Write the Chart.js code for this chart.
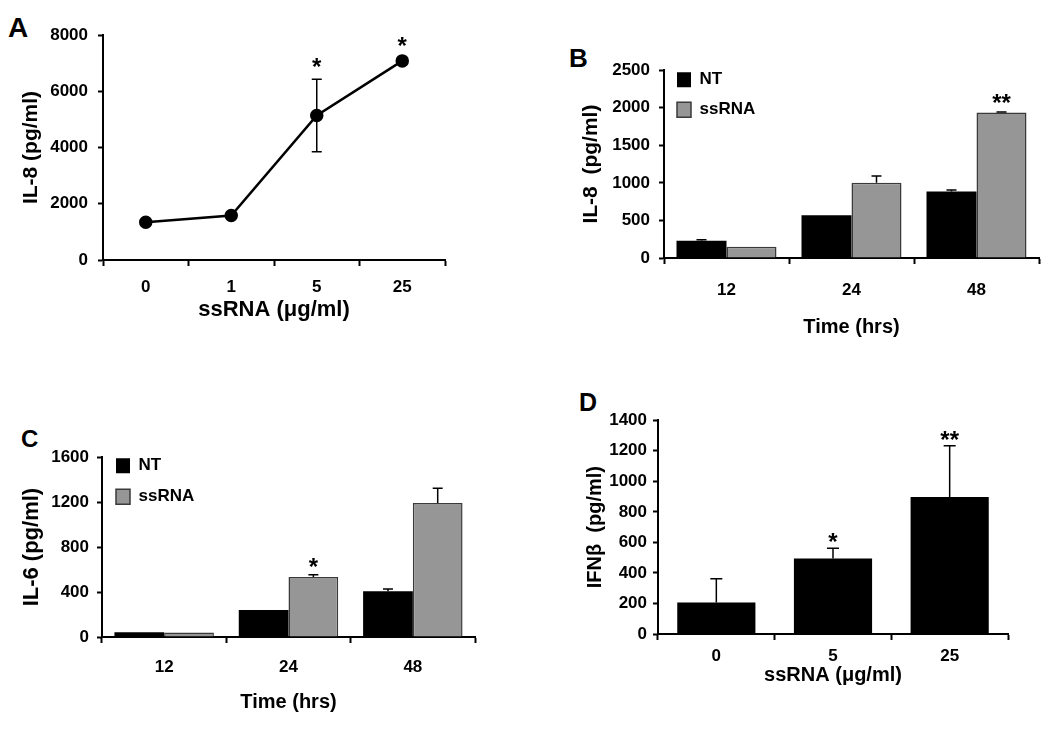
<!DOCTYPE html>
<html lang="en">
<head>
<meta charset="UTF-8">
<title>ssRNA cytokine responses</title>
<script src="https://cdn.jsdelivr.net/npm/chart.js"></script>
<style>
  body { margin: 0; background: #fff; width: 1050px; height: 731px; position: relative; overflow: hidden;
         font-family: "Liberation Sans", Arial, sans-serif; }
  canvas { position: absolute; }
  .tag { position: absolute; font-weight: bold; line-height: 1; color: #000; }
</style>
</head>
<body>
<div class="tag" style="left:8px;top:14px;font-size:28px">A</div>
<div class="tag" style="left:569px;top:45px;font-size:26px">B</div>
<div class="tag" style="left:21px;top:427px;font-size:24px">C</div>
<div class="tag" style="left:579px;top:390px;font-size:25px">D</div>

<canvas id="chartA" width="436" height="318" style="left:19px;top:5px"></canvas>
<canvas id="chartB" width="468" height="288" style="left:579px;top:51px"></canvas>
<canvas id="chartC" width="466" height="275" style="left:19px;top:439px"></canvas>
<canvas id="chartD" width="435" height="283" style="left:583px;top:404px"></canvas>

<script>
// A: IL-8 vs ssRNA dose
const doseLabels = ['0', '1', '5', '25'];
const il8Dose = [1340, 1580, 5140, 7080];
const il8DoseErr = [50, 50, 1290, 110];
const il8DoseSig = ['', '', '*', '*'];

// B / C: time course
const timeLabels = ['12', '24', '48'];
const il8NT = [228, 568, 884];
const il8NTErr = [14, 0, 20];
const il8Ss = [150, 1002, 1937];
const il8SsErr = [0, 88, 8];
const il8SsSig = ['', '', '**'];

const il6NT = [43, 241, 408];
const il6NTErr = [0, 0, 19];
const il6Ss = [40, 534, 1192];
const il6SsErr = [0, 20, 132];
const il6SsSig = ['', '*', ''];

// D: IFN-beta vs dose
const ifnLabels = ['0', '5', '25'];
const ifnB = [207, 495, 897];
const ifnBErr = [155, 66, 336];
const ifnBSig = ['', '*', '**'];

Chart.defaults.font.family = '"Liberation Sans", Arial, sans-serif';
Chart.defaults.color = '#000';

const GREY = '#969696';

// error bars + significance stars
const errorBars = {
  id: 'errorBars',
  afterDatasetsDraw(chart, args, opts) {
    const ctx = chart.ctx;
    const y = chart.scales.y;
    ctx.save();
    chart.data.datasets.forEach((ds, i) => {
      if (!ds.errors) return;
      const meta = chart.getDatasetMeta(i);
      meta.data.forEach((el, j) => {
        const v = ds.data[j], e = ds.errors[j] || 0;
        const top = y.getPixelForValue(v + e);
        const bottom = opts.twoSided ? y.getPixelForValue(v - e) : el.y;
        if (e > 0) {
          ctx.strokeStyle = '#000';
          ctx.lineWidth = 1.5;
          ctx.beginPath();
          ctx.moveTo(el.x, bottom);
          ctx.lineTo(el.x, top);
          ctx.moveTo(el.x - opts.cap, top);
          ctx.lineTo(el.x + opts.cap, top);
          if (opts.twoSided) {
            ctx.moveTo(el.x - opts.cap, bottom);
            ctx.lineTo(el.x + opts.cap, bottom);
          }
          ctx.stroke();
        }
        const s = ds.sig && ds.sig[j];
        if (s) {
          ctx.fillStyle = '#000';
          ctx.font = 'bold 24px "Liberation Sans", Arial, sans-serif';
          ctx.textAlign = 'center';
          ctx.textBaseline = 'alphabetic';
          ctx.fillText(s, el.x, top - opts.sigGap);
        }
      });
    });
    ctx.restore();
  }
};

function axes(o) {
  return {
    x: {
      offset: true,
      grid: { offset: true, drawOnChartArea: false, tickLength: 6, tickWidth: 2, tickColor: '#000' },
      border: { color: '#000', width: 2 },
      ticks: { color: '#000', font: { size: 17, weight: 'bold' }, padding: o.xPad, maxRotation: 0 },
      title: { display: true, text: o.xTitle, color: '#000', padding: 0,
               font: { size: o.xTitleSize, weight: 'bold' } },
      afterFit(s) { s.height = o.xH; }
    },
    y: {
      min: 0, max: o.max,
      grid: { drawOnChartArea: false, tickLength: 5, tickWidth: 2, tickColor: '#000' },
      border: { color: '#000', width: 2 },
      ticks: { stepSize: o.step, color: '#000', font: { size: 17, weight: 'bold' }, padding: o.yPad,
               callback: v => String(v) },
      title: { display: true, text: o.yTitle, color: '#000', padding: 0,
               font: { size: o.yTitleSize, weight: 'bold' } },
      afterFit(s) { s.width = o.yW; }
    }
  };
}

// legend sits inside the plot, top-left; the empty title just pushes it down
function legendOpts(drop, inset) {
  return {
    position: 'chartArea', align: 'start',
    title: { display: true, text: '', font: { size: 1 }, padding: { top: 0, bottom: drop } },
    labels: { color: '#000', font: { size: 17, weight: 'bold' }, boxWidth: 14, boxHeight: 15, padding: inset }
  };
}

// A
new Chart(document.getElementById('chartA'), {
  type: 'line',
  data: {
    labels: doseLabels,
    datasets: [{
      label: 'IL-8', data: il8Dose, errors: il8DoseErr, sig: il8DoseSig,
      borderColor: '#000', backgroundColor: '#000', borderWidth: 2.5,
      pointRadius: 5.5, pointBackgroundColor: '#000', tension: 0
    }]
  },
  options: {
    responsive: false, animation: false,
    layout: { padding: { top: 30, right: 10, left: 0, bottom: 0 } },
    plugins: { legend: { display: false }, tooltip: { enabled: false },
               errorBars: { twoSided: true, cap: 5, sigGap: 4 } },
    scales: axes({ max: 8000, step: 2000, xTitle: 'ssRNA (μg/ml)', xTitleSize: 22, yTitle: 'IL-8 (pg/ml)',
                   yTitleSize: 21, xH: 63, yW: 84, xPad: 11, yPad: 10 })
  },
  plugins: [errorBars]
});

// B
new Chart(document.getElementById('chartB'), {
  type: 'bar',
  data: {
    labels: timeLabels,
    datasets: [
      { label: 'NT', data: il8NT, errors: il8NTErr, backgroundColor: '#000', borderWidth: 0 },
      { label: 'ssRNA', data: il8Ss, errors: il8SsErr, sig: il8SsSig, backgroundColor: GREY,
        borderColor: '#3a3a3a', borderWidth: 1.5 }
    ]
  },
  options: {
    responsive: false, animation: false,
    datasets: { bar: { barPercentage: 1, categoryPercentage: 0.8 } },
    layout: { padding: { top: 12, right: 8, left: 0, bottom: 0 } },
    plugins: { legend: legendOpts(6, 13), tooltip: { enabled: false },
               errorBars: { twoSided: false, cap: 5, sigGap: 1 } },
    scales: axes({ max: 2500, step: 500, xTitle: 'Time (hrs)', xTitleSize: 20, yTitle: 'IL-8  (pg/ml)',
                   yTitleSize: 21, xH: 81, yW: 85, xPad: 16, yPad: 9 })
  },
  plugins: [errorBars]
});

// C
new Chart(document.getElementById('chartC'), {
  type: 'bar',
  data: {
    labels: timeLabels,
    datasets: [
      { label: 'NT', data: il6NT, errors: il6NTErr, backgroundColor: '#000', borderWidth: 0 },
      { label: 'ssRNA', data: il6Ss, errors: il6SsErr, sig: il6SsSig, backgroundColor: GREY,
        borderColor: '#3a3a3a', borderWidth: 1.5 }
    ]
  },
  options: {
    responsive: false, animation: false,
    datasets: { bar: { barPercentage: 1, categoryPercentage: 0.8 } },
    layout: { padding: { top: 12, right: 10, left: 0, bottom: 0 } },
    plugins: { legend: legendOpts(3, 14), tooltip: { enabled: false },
               errorBars: { twoSided: false, cap: 5, sigGap: 0 } },
    scales: axes({ max: 1600, step: 400, xTitle: 'Time (hrs)', xTitleSize: 20, yTitle: 'IL-6 (pg/ml)',
                   yTitleSize: 22, xH: 77, yW: 83, xPad: 14, yPad: 8 })
  },
  plugins: [errorBars]
});

// D
new Chart(document.getElementById('chartD'), {
  type: 'bar',
  data: {
    labels: ifnLabels,
    datasets: [
      { label: 'IFNβ', data: ifnB, errors: ifnBErr, sig: ifnBSig, backgroundColor: '#000', borderWidth: 0 }
    ]
  },
  options: {
    responsive: false, animation: false,
    datasets: { bar: { barPercentage: 1, categoryPercentage: 0.67 } },
    layout: { padding: { top: 12, right: 10, left: 0, bottom: 0 } },
    plugins: { legend: { display: false }, tooltip: { enabled: false },
               errorBars: { twoSided: false, cap: 6, sigGap: -2 } },
    scales: axes({ max: 1400, step: 200, xTitle: 'ssRNA (μg/ml)', xTitleSize: 20, yTitle: 'IFNβ  (pg/ml)',
                   yTitleSize: 20, xH: 53, yW: 75, xPad: 6, yPad: 6 })
  },
  plugins: [errorBars]
});
</script>
</body>
</html>
